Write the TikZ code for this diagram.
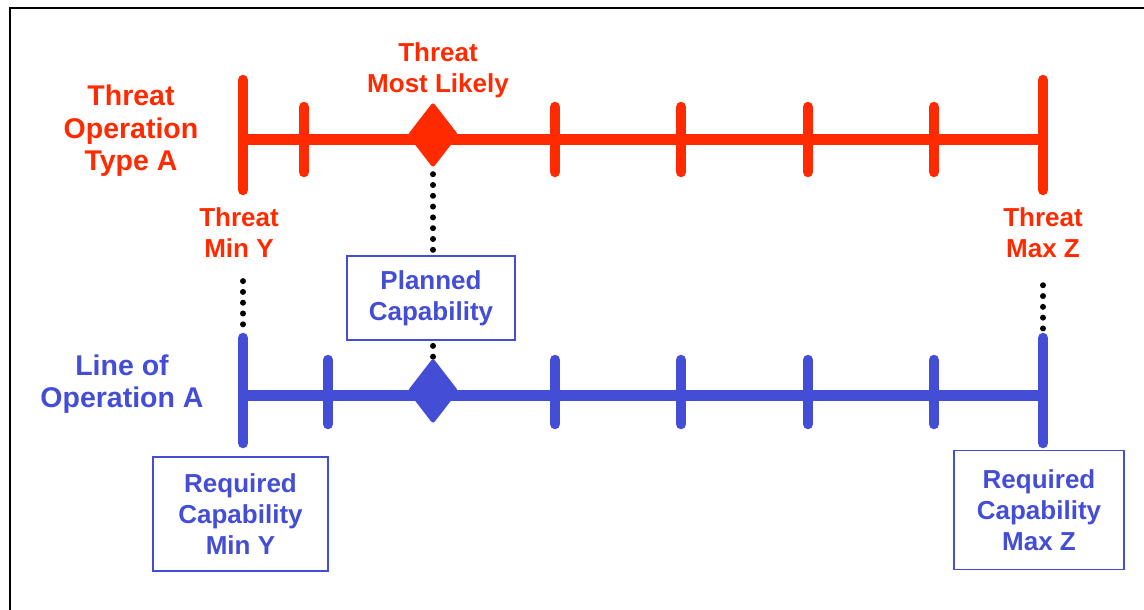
\documentclass[tikz,border=0pt]{standalone}
\usepackage{fontspec}
\setmainfont{Liberation Sans}
\usepackage{xcolor}
\definecolor{ThreatRed}{HTML}{FF2A00}
\definecolor{OpBlue}{HTML}{434DD6}
\usepackage{tikz}
\usetikzlibrary{positioning,shapes.geometric}
\tikzset{
    bigfont/.style={font=\bfseries\fontsize{28.5}{32.5}\selectfont, align=center, inner sep=1pt},
    smallfont/.style={font=\bfseries\fontsize{26}{31}\selectfont, align=center, inner sep=1pt},
    axisline/.style={line width=11pt},
    tickline/.style={line width=10.5pt, line cap=round},
    marker/.style={diamond, inner sep=0pt, minimum width=51pt, minimum height=66pt, rounded corners=3pt},
    capbox/.style={smallfont, draw=OpBlue, text=OpBlue, line width=1.8pt},
    dotline/.style={line width=6pt, line cap=round, dash pattern=on 0pt off 10.8pt}
}
\begin{document}
\begin{tikzpicture}[x=1pt,y=-1pt]
        \useasboundingbox (0,0) rectangle (1144,610);
        \draw[line width=2.5pt] (10,610) -- (10,8) -- (1144,8);

        \draw[axisline, ThreatRed] (243,139) -- (1043,139);
        \foreach \x in {304,555,681,808,934} \draw[tickline, ThreatRed] (\x,107) -- (\x,172);
        \draw[tickline, ThreatRed] (243,80) -- (243,190);
        \draw[tickline, ThreatRed] (1043,80) -- (1043,190);
        \node[marker, fill=ThreatRed] (dmRed) at (433,135) {};

        \draw[axisline, OpBlue] (243,395) -- (1043,395);
        \foreach \x in {328,555,681,808,934} \draw[tickline, OpBlue] (\x,360) -- (\x,424);
        \draw[tickline, OpBlue] (243,338) -- (243,443);
        \draw[tickline, OpBlue] (1043,338) -- (1043,443);
        \coordinate (blueLtop) at (243,331);
        \coordinate (blueRtop) at (1043,331);
        \node[marker, fill=OpBlue] (dmBlue) at (433,391) {};

        \node[bigfont, text=ThreatRed] (lblThreatOp) at (131,131) {Threat\\Operation\\Type A};
        \node[smallfont, text=ThreatRed] (lblMostLikely) at (438,70) {Threat\\Most Likely};
        \node[smallfont, text=ThreatRed] (lblMinY) at (239,233) {Threat\\Min Y};
        \node[smallfont, text=ThreatRed] (lblMaxZ) at (1043,233) {Threat\\Max Z};
        \node[bigfont, text=OpBlue] (lblLineOp) at (122,384) {Line of\\Operation A};

        \node[capbox, minimum width=168pt, minimum height=84pt] (boxPlanned) at (431,298) {Planned\\Capability};
        \node[capbox, minimum width=175pt, minimum height=114pt] (boxReqMin) at (240.5,514) {Required\\Capability\\Min Y};
        \node[capbox, minimum width=170pt, minimum height=119pt] (boxReqMax) at (1039,510) {Required\\Capability\\Max Z};

        \draw[dotline] (dmRed.south) ++(0,6) -- (dmRed.south |- boxPlanned.north);
        \draw[dotline] (dmBlue.north |- boxPlanned.south) ++(0,5) -- (dmBlue.north);
        \draw[dotline] (lblMinY.south -| blueLtop) ++(0,22) -- (blueLtop);
        \draw[dotline] (lblMaxZ.south -| blueRtop) ++(0,26) -- (blueRtop);
    \end{tikzpicture}
\end{document}
